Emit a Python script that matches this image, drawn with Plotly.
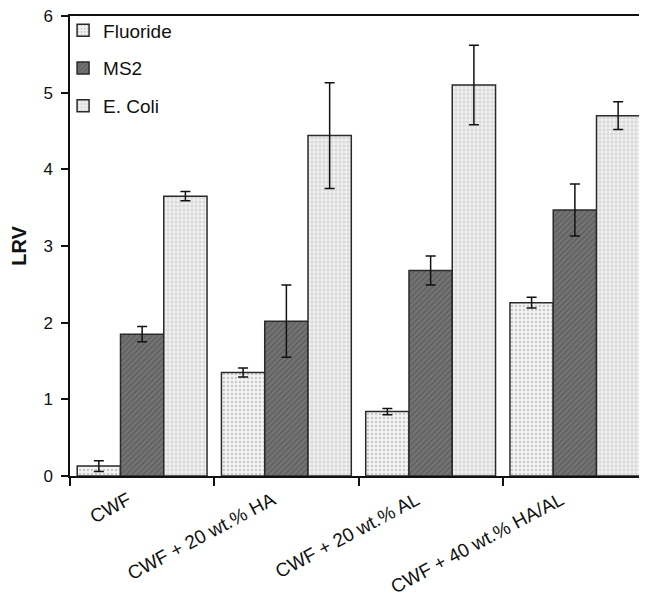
import plotly.graph_objects as go

categories = ["CWF", "CWF + 20 wt.% HA", "CWF + 20 wt.% AL", "CWF + 40 wt.% HA/AL"]
fluoride = [0.13, 1.35, 0.84, 2.26]
fluoride_err = [0.07, 0.06, 0.04, 0.07]
ms2 = [1.85, 2.02, 2.68, 3.47]
ms2_err = [0.10, 0.47, 0.19, 0.34]
ecoli = [3.65, 4.44, 5.10, 4.70]
ecoli_err = [0.06, 0.69, 0.52, 0.18]
y_ticks = [0, 1, 2, 3, 4, 5, 6]

FONT = "Liberation Sans, Arial, sans-serif"

series = [
    ("Fluoride", fluoride, fluoride_err, dict(shape=".", bgcolor="#f4f4f4", fgcolor="#9a9a9a", size=4, solidity=0.3)),
    ("MS2", ms2, ms2_err, dict(shape="/", bgcolor="#747474", fgcolor="#4a4a4a", size=4, solidity=0.4)),
    ("E. Coli", ecoli, ecoli_err, dict(shape="+", bgcolor="#f2f2f2", fgcolor="#9c9c9c", size=4, solidity=0.3)),
]

fig = go.Figure()
for i, (name, vals, errs, pat) in enumerate(series):
    fig.add_trace(go.Bar(
        x=categories, y=vals, name=name, legendgroup=name,
        marker=dict(color=pat["bgcolor"], pattern=pat, line=dict(color="#2a2a2a", width=1.5)),
        error_y=dict(type="data", array=errs, visible=True, color="#111111", thickness=1.5, width=5),
    ))

# page body adds an 8px margin, so the figure is sized/offset to compensate
fig.update_layout(
    width=639, height=591,
    margin=dict(l=62, r=0, t=8, b=123),
    paper_bgcolor="white", plot_bgcolor="white",
    barmode="group", bargap=0.1, bargroupgap=0,
    font=dict(family=FONT, size=16, color="#111111"),
    showlegend=True,
    legend=dict(x=-0.012, y=1.01, xanchor="left", yanchor="top",
                font=dict(family=FONT, size=19, color="#111111"),
                traceorder="grouped", tracegroupgap=10,
                bgcolor="rgba(0,0,0,0)", itemwidth=30),
)
fig.update_xaxes(
    type="category", tickson="boundaries", ticks="outside", ticklen=8, tickwidth=1.5, tickcolor="#111111",
    showline=True, linecolor="#111111", linewidth=1.5, mirror=True, automargin=False,
    tickangle=-28, tickfont=dict(family=FONT, size=19, color="#111111"), showgrid=False,
    ticklabelshift=-14, ticklabelstandoff=4,
)
fig.update_yaxes(
    range=[0, 6], tickvals=y_ticks, ticks="outside", ticklen=7, tickwidth=1.5, tickcolor="#111111",
    showline=True, linecolor="#111111", linewidth=1.5, showgrid=False, zeroline=False, automargin=False,
    tickfont=dict(family=FONT, size=17, color="#111111"), ticklabeloverflow="allow", ticklabelstandoff=5,
    title=dict(text="<b>LRV</b>", font=dict(family=FONT, size=20, color="#111111"), standoff=11),
)

fig.write_html("out.html")
